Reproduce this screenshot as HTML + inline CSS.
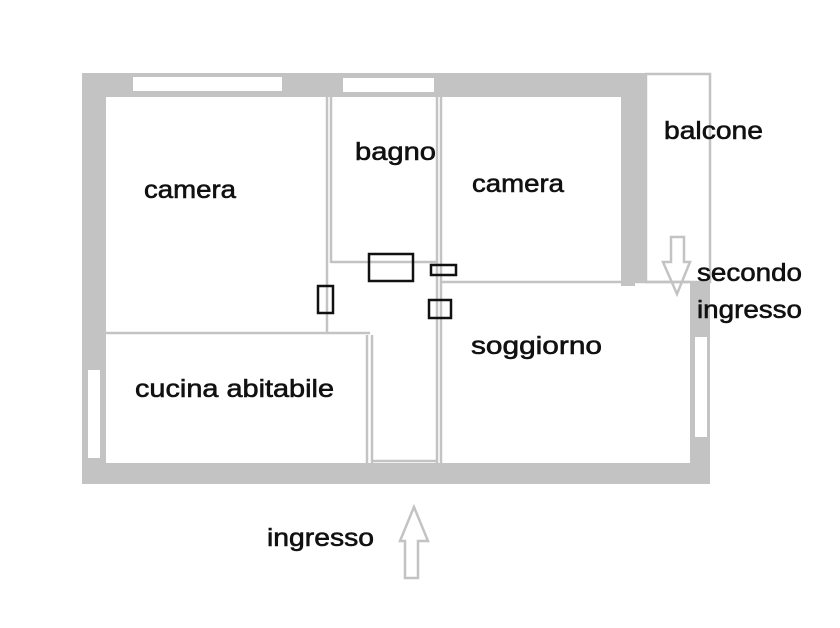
<!DOCTYPE html>
<html><head><meta charset="utf-8"><style>
html,body{margin:0;padding:0;background:#fff;width:840px;height:628px;overflow:hidden}
svg{display:block}
text{font-family:"Liberation Sans",sans-serif;font-size:25px;fill:#111;stroke:#111;stroke-width:0.6}
</style></head><body>
<svg width="840" height="628" viewBox="0 0 840 628">
<g fill="#c3c3c3">
<rect x="82" y="73" width="565" height="24"/>
<rect x="82" y="73" width="24" height="411"/>
<rect x="82" y="463" width="628" height="21"/>
<rect x="621" y="73" width="25" height="210"/>
<rect x="621" y="270" width="14" height="16"/>
<rect x="690" y="282" width="20" height="202"/>
</g>
<g fill="#fff">
<rect x="133" y="77" width="149" height="14"/>
<rect x="343" y="78" width="91" height="14"/>
<rect x="88" y="370" width="12" height="88"/>
<rect x="695" y="337" width="12" height="100"/>
</g>
<g fill="none" stroke="#c3c3c3" stroke-width="2.5">
<rect x="646" y="74" width="64" height="208"/>
<line x1="635" y1="282" x2="690" y2="282"/>
<line x1="440" y1="282" x2="621" y2="282"/>
<line x1="327" y1="97" x2="327" y2="333"/>
<line x1="331" y1="97" x2="331" y2="263"/>
<line x1="331" y1="262" x2="437" y2="262"/>
<line x1="437" y1="97" x2="437" y2="463"/>
<line x1="441" y1="97" x2="441" y2="282"/>
<line x1="441" y1="282" x2="441" y2="463"/>
<line x1="106" y1="333" x2="370" y2="333"/>
<line x1="367" y1="335" x2="367" y2="463"/>
<line x1="372" y1="335" x2="372" y2="463"/>
<line x1="372" y1="461" x2="437" y2="461"/>
<path d="M671 237 H684 V262 H690 L677 294 L663 262 H671 Z"/>
<path d="M405 578 H418 V541 H428 L414 507 L400 541 H405 Z"/>
</g>
<g fill="none" stroke="#111" stroke-width="2.5">
<rect x="369" y="254" width="44" height="27"/>
<rect x="431" y="265" width="25" height="10"/>
<rect x="318" y="286" width="15" height="27"/>
<rect x="429" y="300" width="22" height="18"/>
</g>
<text x="144" y="198" textLength="92" lengthAdjust="spacingAndGlyphs">camera</text>
<text x="355" y="160" textLength="81" lengthAdjust="spacingAndGlyphs">bagno</text>
<text x="472" y="192" textLength="92" lengthAdjust="spacingAndGlyphs">camera</text>
<text x="664" y="139" textLength="99" lengthAdjust="spacingAndGlyphs">balcone</text>
<text x="697" y="281" textLength="105" lengthAdjust="spacingAndGlyphs">secondo</text>
<text x="697" y="318" textLength="105" lengthAdjust="spacingAndGlyphs">ingresso</text>
<text x="471" y="354" textLength="131" lengthAdjust="spacingAndGlyphs">soggiorno</text>
<text x="135" y="397" textLength="199" lengthAdjust="spacingAndGlyphs">cucina abitabile</text>
<text x="267" y="546" textLength="107" lengthAdjust="spacingAndGlyphs">ingresso</text>
</svg>
</body></html>
